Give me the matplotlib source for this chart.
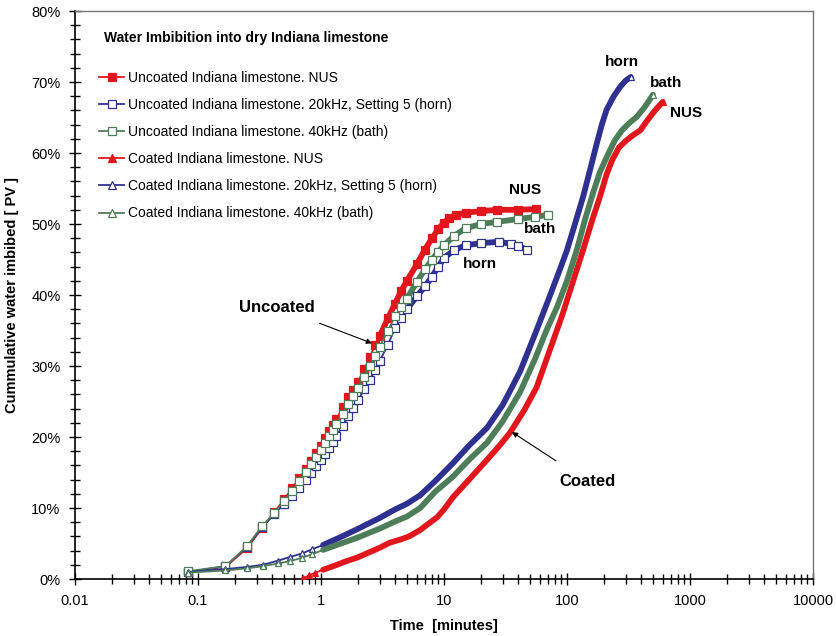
import numpy as np
import matplotlib
matplotlib.use('Agg')
import matplotlib.pyplot as plt
from matplotlib.lines import Line2D
from matplotlib.ticker import FixedLocator, MultipleLocator, FuncFormatter, NullFormatter

plt.rcParams['font.family'] = ['Liberation Sans', 'DejaVu Sans']

RED = '#e2161d'
BLUE = '#2e3190'
GREEN = '#4e7d5a'

x_ticks = [0.01, 0.1, 1, 10, 100, 1000, 10000]

# ---- uncoated samples (time in minutes, imbibed water in % PV)
unc_nus_t = [0.083, 0.167, 0.25, 0.333, 0.417, 0.5, 0.583, 0.667, 0.75, 0.833, 0.917, 1.0,
             1.083, 1.167, 1.25, 1.333, 1.5, 1.667, 1.833, 2.0, 2.25, 2.5, 2.75, 3.0, 3.5,
             4.0, 4.5, 5.0, 6.0, 7.0, 8.0, 9.0, 10.0, 11.0, 12.5, 15.0, 20.0, 27.0, 40.0, 56.0]
unc_nus_y = [1.0, 1.7, 4.3, 7.2, 9.4, 11.2, 12.8, 14.2, 15.5, 16.6, 17.7, 18.8,
             19.8, 20.8, 21.7, 22.5, 24.2, 25.6, 26.6, 27.8, 29.6, 31.3, 32.9, 34.2, 36.7,
             38.8, 40.6, 42.0, 44.3, 46.4, 48.0, 49.3, 50.2, 50.8, 51.3, 51.6, 51.8, 52.0, 52.0, 52.1]

unc_horn_t = [0.083, 0.167, 0.25, 0.333, 0.417, 0.5, 0.583, 0.667, 0.75, 0.833, 0.917, 1.0,
              1.083, 1.167, 1.25, 1.333, 1.5, 1.667, 1.833, 2.0, 2.25, 2.5, 2.75, 3.0, 3.5,
              4.0, 4.5, 5.0, 6.0, 7.0, 8.0, 9.0, 10.0, 12.0, 15.0, 20.0, 28.0, 35.0, 40.0, 47.0]
unc_horn_y = [1.0, 1.8, 4.5, 7.3, 9.1, 10.6, 11.7, 12.8, 13.9, 14.9, 15.9, 16.7,
              17.6, 18.5, 19.3, 20.1, 21.6, 22.9, 24.1, 25.2, 26.7, 28.1, 29.4, 30.7, 33.0,
              35.3, 36.8, 38.0, 39.8, 41.2, 42.6, 44.0, 45.2, 46.3, 47.0, 47.3, 47.5, 47.2, 46.9, 46.4]

unc_bath_t = [0.083, 0.167, 0.25, 0.333, 0.417, 0.5, 0.583, 0.667, 0.75, 0.833, 0.917, 1.0,
              1.083, 1.167, 1.25, 1.333, 1.5, 1.667, 1.833, 2.0, 2.25, 2.5, 2.75, 3.0, 3.5,
              4.0, 4.5, 5.0, 6.0, 7.0, 8.0, 9.0, 10.0, 12.0, 15.0, 20.0, 27.0, 40.0, 55.0, 70.0]
unc_bath_y = [1.1, 1.8, 4.6, 7.5, 9.3, 11.0, 12.4, 13.8, 15.1, 16.2, 17.2, 18.2,
              19.2, 20.1, 21.0, 21.8, 23.3, 24.6, 25.8, 26.9, 28.5, 30.0, 31.4, 32.7, 35.0,
              37.0, 38.3, 39.5, 41.8, 43.6, 45.0, 46.1, 47.0, 48.3, 49.4, 50.0, 50.3, 50.7, 51.0, 51.3]

# ---- coated samples
coat_nus_t = [0.71, 0.8, 0.9, 1.04, 1.3, 1.6, 1.96, 2.5, 3.0, 3.6, 4.5, 5.2, 6.4, 7.5, 8.8,
              10.0, 11.8, 16.0, 22.4, 28.0, 34.4, 45.0, 56.6, 70.0, 91.6, 110.0, 135.0, 160.0,
              185.0, 210.0, 233.0, 265.0, 305.0, 350.0, 395.0, 450.0, 520.0, 600.0]
coat_nus_y = [0.1, 0.5, 0.9, 1.3, 1.9, 2.5, 3.0, 3.8, 4.4, 5.1, 5.6, 6.0, 6.9, 7.8, 8.7,
              9.8, 11.5, 14.0, 16.8, 18.7, 20.6, 23.8, 27.0, 31.5, 37.2, 41.5, 46.3, 50.5,
              53.8, 57.0, 59.0, 60.8, 61.8, 62.6, 63.2, 64.6, 66.0, 67.2]

coat_horn_t = [0.083, 0.167, 0.25, 0.337, 0.45, 0.56, 0.7, 0.85, 1.04, 1.4, 1.96, 3.0, 4.0,
               5.0, 6.4, 8.5, 11.8, 16.0, 22.4, 30.0, 41.5, 55.0, 68.7, 85.0, 100.0, 117.0,
               135.0, 155.0, 175.0, 192.0, 210.0, 240.0, 270.0, 300.0, 330.0]
coat_horn_y = [1.0, 1.4, 1.7, 2.0, 2.6, 3.1, 3.6, 4.2, 4.8, 5.8, 7.0, 8.6, 9.8,
               10.6, 11.8, 13.8, 16.3, 18.8, 21.3, 24.5, 29.2, 34.5, 38.8, 43.0, 46.3, 50.2,
               53.8, 57.8, 61.4, 64.0, 66.1, 68.0, 69.3, 70.2, 70.7]

coat_bath_t = [0.083, 0.167, 0.25, 0.337, 0.45, 0.56, 0.7, 0.85, 1.04, 1.4, 1.96, 3.0, 4.0,
               5.0, 6.4, 8.5, 11.8, 16.0, 22.4, 30.0, 41.5, 55.0, 68.0, 83.0, 100.0, 120.0,
               140.0, 163.0, 185.0, 210.0, 245.0, 280.0, 320.0, 370.0, 430.0, 500.0]
coat_bath_y = [0.9, 1.2, 1.5, 1.8, 2.2, 2.5, 3.0, 3.5, 4.1, 4.9, 5.8, 7.1, 8.1,
               8.8, 10.0, 12.3, 14.4, 16.8, 19.2, 22.2, 26.3, 31.0, 35.0, 38.3, 42.0, 46.3,
               50.6, 54.4, 57.3, 59.4, 61.8, 63.2, 64.2, 65.1, 66.5, 68.2]

series = [
    ('Uncoated Indiana limestone. NUS', unc_nus_t, unc_nus_y, RED, 's', RED, 3.0),
    ('Uncoated Indiana limestone. 20kHz, Setting 5 (horn)', unc_horn_t, unc_horn_y, BLUE, 's', 'white', 5.0),
    ('Uncoated Indiana limestone. 40kHz (bath)', unc_bath_t, unc_bath_y, GREEN, 's', 'white', 5.0),
    ('Coated Indiana limestone. NUS', coat_nus_t, coat_nus_y, RED, '^', RED, 1.0),
    ('Coated Indiana limestone. 20kHz, Setting 5 (horn)', coat_horn_t, coat_horn_y, BLUE, '^', 'white', 1.0),
    ('Coated Indiana limestone. 40kHz (bath)', coat_bath_t, coat_bath_y, GREEN, '^', 'white', 1.0),
]

fig = plt.figure(figsize=(8.37, 6.36), dpi=100)
ax = fig.add_axes([0.0896, 0.0896, 0.8817, 0.8931])

handles = []
for label, t, y, col, mk, mfc, dense_from in series:
    t = np.array(t)
    y = np.array(y)
    d = t >= dense_from
    # dense sampling looks like a thick band
    ax.plot(t[d], y[d], color=col, lw=4.2, solid_capstyle='round', zorder=2)
    if mk == 's':
        ax.plot(t, y, color=col, lw=1.3, marker=mk, ms=5.5, mfc=mfc, mec=col, mew=0.9, zorder=3)
    else:
        idx = list(np.where(~d)[0]) + [len(t) - 1]
        ax.plot(t, y, color=col, lw=1.3, marker=mk, ms=4.5, mfc=mfc, mec=col, mew=0.9,
                markevery=idx, zorder=3)
    handles.append(Line2D([], [], color=col, lw=1.3, marker=mk, ms=5.5, mfc=mfc, mec=col, mew=0.9))

ax.set_xscale('log')
ax.set_xlim(0.01, 10000)
ax.set_ylim(0, 80)

minor = [m * v for v in x_ticks[:-1] for m in range(2, 10)]
ax.xaxis.set_major_locator(FixedLocator(x_ticks))
ax.xaxis.set_minor_locator(FixedLocator(minor))
ax.xaxis.set_major_formatter(FuncFormatter(lambda v, p: '%g' % v))
ax.xaxis.set_minor_formatter(NullFormatter())
ax.yaxis.set_major_locator(MultipleLocator(10))
ax.yaxis.set_minor_locator(MultipleLocator(2))
ax.yaxis.set_major_formatter(FuncFormatter(lambda v, p: '%d%%' % round(v)))

ax.tick_params(which='both', direction='inout', top=False, right=False, labelsize=10.5, width=1.0)
ax.tick_params(which='major', length=9, pad=6)
ax.tick_params(which='minor', length=7)

for s in ('left', 'bottom'):
    ax.spines[s].set_color('black')
    ax.spines[s].set_linewidth(1.2)
for s in ('top', 'right'):
    ax.spines[s].set_color('#777777')
    ax.spines[s].set_linewidth(1.0)

ax.set_xlabel('Time  [minutes]', fontsize=10.5, fontweight='bold', labelpad=8)
ax.set_ylabel('Cummulative water imbibed [ PV ]', fontsize=10.5, fontweight='bold')
ax.yaxis.set_label_coords(-0.0755, 0.5)

ax.text(0.039, 0.9525, 'Water Imbibition into dry Indiana limestone', transform=ax.transAxes,
        fontsize=10, fontweight='bold', ha='left', va='center')
ax.legend(handles, [s[0] for s in series], loc='upper left', bbox_to_anchor=(0.025, 0.905),
          frameon=False, fontsize=10, handlelength=1.8, handletextpad=0.3, labelspacing=0.95,
          borderaxespad=0)

lab = dict(fontsize=11, fontweight='bold', ha='center', va='center')
ax.text(45.6, 54.8, 'NUS', **lab)
ax.text(60, 49.3, 'bath', **lab)
ax.text(19.6, 44.4, 'horn', **lab)
ax.text(280, 72.8, 'horn', **lab)
ax.text(638, 69.9, 'bath', **lab)
ax.text(927, 65.6, 'NUS', **lab)

big = dict(fontsize=12, fontweight='bold', ha='center', va='center')
ax.annotate('Uncoated', xy=(2.6, 33.2), xytext=(0.44, 38.3), **big,
            arrowprops=dict(arrowstyle='-|>', color='black', lw=0.8, mutation_scale=8,
                            shrinkA=12, shrinkB=0))
ax.annotate('Coated', xy=(35.7, 20.7), xytext=(148, 13.7), **big,
            arrowprops=dict(arrowstyle='-|>', color='black', lw=0.8, mutation_scale=8,
                            shrinkA=14, shrinkB=0))

fig.savefig('out.png', dpi=100)
